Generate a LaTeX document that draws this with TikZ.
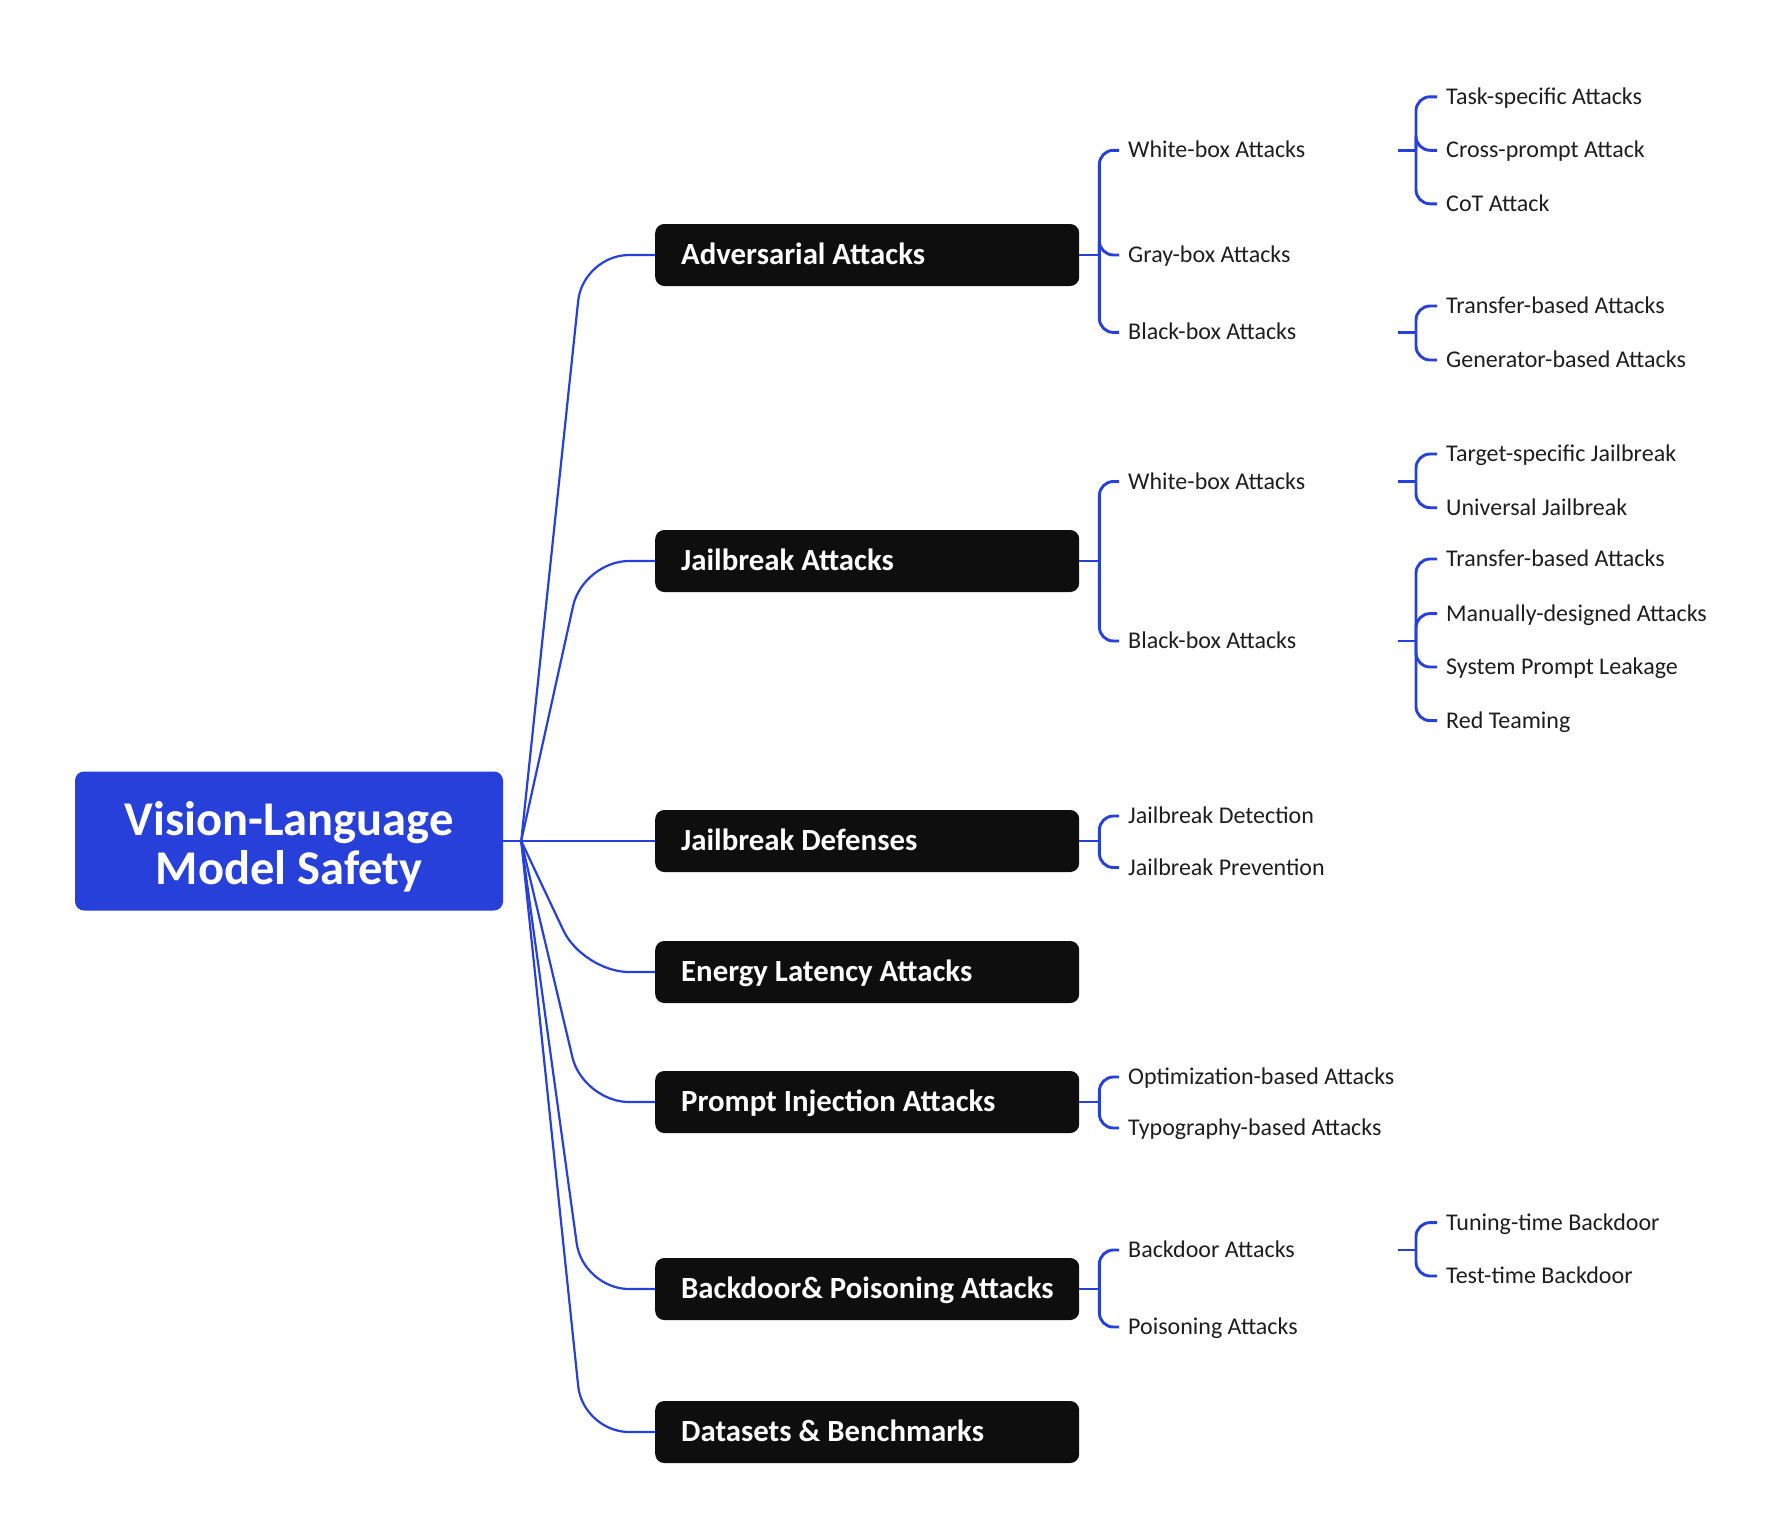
\documentclass[tikz,border=0pt]{standalone}
\usepackage{fontspec}
\setmainfont{Carlito}
\definecolor{vblue}{RGB}{38,64,217}
\definecolor{boxblack}{RGB}{14,14,14}
\definecolor{txt}{RGB}{30,30,30}
\begin{document}
\begin{tikzpicture}[x=1pt,y=-1pt,
  rootbox/.style={fill=vblue, rounded corners=9pt, minimum width=428pt, minimum height=139pt, inner sep=0pt},
  roottext/.style={text=white, font=\bfseries\fontsize{48.5}{49}\selectfont, align=center, inner sep=0pt},
  mainbox/.style={fill=boxblack, rounded corners=9pt, minimum width=424pt, minimum height=62pt, inner sep=0pt, anchor=west},
  maintext/.style={anchor=west, inner sep=0pt, text height=22pt, text depth=2.4pt, text=white, font=\bfseries\fontsize{30.8}{34}\selectfont},
  sub/.style={anchor=west, inner xsep=9pt, inner ysep=2pt, text height=18pt, text depth=3pt, text=txt, font=\fontsize{24}{26}\selectfont},
  link/.style={draw=vblue, line width=2.2pt},
  blink/.style={draw=vblue, line width=2.9pt},
  fan/.style={link, rounded corners=46pt},
  brk/.style={blink, rounded corners=14pt}]
\useasboundingbox (0,0) rectangle (1785,1539);

\node[rootbox] (vlm) at (289,841) {};
\node[roottext] (vlmT) at (289,847) {Vision-Language\\Model Safety};

\foreach \n/\y/\t in {adv/255/Adversarial Attacks, jb/561/Jailbreak Attacks, jd/841/Jailbreak Defenses, el/972/Energy Latency Attacks, pi/1102/Prompt Injection Attacks, bp/1289/Backdoor\& Poisoning Attacks, ds/1432/Datasets \& Benchmarks}{
  \node[mainbox] (\n) at (655,\y) {};
  \node[maintext] (\n T) at (681,\y) {\t};
}

\draw[link] (vlm.east) -- ++(18,0) coordinate (hub);
\foreach \n in {adv,jb,jd,el,pi,bp,ds}
  \draw[fan] (hub) -- ([xshift=-72pt]\n.west) -- (\n.west);

% second level
\node[sub] (advw) at (1119,150.3) {White-box Attacks};
\node[sub] (advg) at (1119,255) {Gray-box Attacks};
\node[sub] (advb) at (1119,332.4) {Black-box Attacks};
\node[sub] (jbw) at (1119,481.5) {White-box Attacks};
\node[sub] (jbb) at (1119,641) {Black-box Attacks};
\node[sub] (jdd) at (1119,816) {Jailbreak Detection};
\node[sub] (jdp) at (1119,867.5) {Jailbreak Prevention};
\node[sub] (pio) at (1119,1077) {Optimization-based Attacks};
\node[sub] (pit) at (1119,1128) {Typography-based Attacks};
\node[sub] (bpb) at (1119,1250) {Backdoor Attacks};
\node[sub] (bpp) at (1119,1327) {Poisoning Attacks};

\draw[blink] (adv.east) -- ++(20,0) coordinate (advJ);
\draw[blink] (jb.east) -- ++(20,0) coordinate (jbJ);
\draw[blink] (jd.east) -- ++(20,0) coordinate (jdJ);
\draw[blink] (pi.east) -- ++(20,0) coordinate (piJ);
\draw[blink] (bp.east) -- ++(20,0) coordinate (bpJ);
\foreach \j/\c in {advJ/advw,advJ/advg,advJ/advb,jbJ/jbw,jbJ/jbb,jdJ/jdd,jdJ/jdp,piJ/pio,piJ/pit,bpJ/bpb,bpJ/bpp}
  \draw[brk] (\j) |- (\c.west);

% third level
\node[sub] (a1) at (1437,96.8) {Task-specific Attacks};
\node[sub] (a2) at (1437,150.3) {Cross-prompt Attack};
\node[sub] (a3) at (1437,203.8) {CoT Attack};
\node[sub] (b1) at (1437,306) {Transfer-based Attacks};
\node[sub] (b2) at (1437,360) {Generator-based Attacks};
\node[sub] (c1) at (1437,454) {Target-specific Jailbreak};
\node[sub] (c2) at (1437,507.7) {Universal Jailbreak};
\node[sub] (d1) at (1437,559) {Transfer-based Attacks};
\node[sub] (d2) at (1437,613.6) {Manually-designed Attacks};
\node[sub] (d3) at (1437,667) {System Prompt Leakage};
\node[sub] (d4) at (1437,720.6) {Red Teaming};
\node[sub] (e1) at (1437,1222.6) {Tuning-time Backdoor};
\node[sub] (e2) at (1437,1276) {Test-time Backdoor};

\coordinate (advwS) at (1398,150.3);
\coordinate (advbS) at (1398,332.4);
\coordinate (jbwS) at (1398,481.5);
\coordinate (jbbS) at (1398,641);
\coordinate (bpbS) at (1398,1250);
\foreach \s in {advwS,advbS,jbwS,jbbS,bpbS}
  \draw[blink] (\s) -- ++(18,0) coordinate (\s J);
\foreach \j/\c in {advwSJ/a1,advwSJ/a2,advwSJ/a3,advbSJ/b1,advbSJ/b2,jbwSJ/c1,jbwSJ/c2,jbbSJ/d1,jbbSJ/d2,jbbSJ/d3,jbbSJ/d4,bpbSJ/e1,bpbSJ/e2}
  \draw[brk] (\j) |- (\c.west);
\end{tikzpicture}
\end{document}
